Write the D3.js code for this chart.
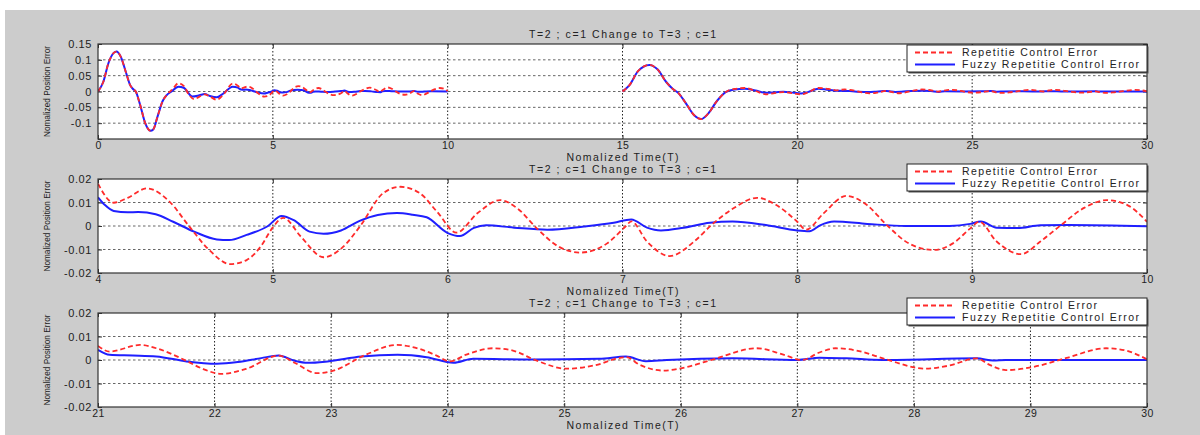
<!DOCTYPE html>
<html>
<head>
<meta charset="utf-8">
<script src="https://cdn.jsdelivr.net/npm/d3@7/dist/d3.min.js"></script>
<style>
  body { margin: 0; background: #fff; }
  text { font-family: "Liberation Sans", Arial, sans-serif; fill: #222; }
</style>
</head>
<body>
<svg id="canvas"></svg>
<script>
/* series: time (T) and normalized position error */
let redAt = [0,0.15,0.3,0.45,0.53,0.65,0.8,0.92,1.0,1.08,1.2,1.35,1.5,1.58,1.7,1.85,1.96,2.15,2.3,2.45,2.6,2.75,2.9,3.05,3.2,3.4,3.6,3.85,3.95,
  4.0,4.09,4.17,4.28,4.41,4.52,4.64,4.755,4.85,4.93,5.0,5.06,5.16,5.29,5.4,5.5,5.63,5.73,5.84,5.94,6.05,6.17,6.3,6.4,6.51,6.64,6.76,6.91,7.02,7.05,
  7.14,7.27,7.41,7.51,7.63,7.77,7.88,8.0,8.05,8.15,8.28,8.4,8.51,8.64,8.78,8.89,8.99,9.04,9.14,9.28,9.39,9.51,9.64,9.77,9.89,10.0];
let redAv = [0,0.03,0.09,0.122,0.126,0.11,0.06,0.02,0.008,0.0,-0.04,-0.1,-0.124,-0.12,-0.08,-0.03,-0.012,0.01,0.026,0.018,-0.01,-0.024,-0.016,-0.009,-0.016,-0.026,-0.008,0.025,0.022,
  0.018,0.0099,0.012,0.016,0.0103,0.0,-0.0105,-0.0162,-0.0145,-0.0088,-0.0006,0.0035,-0.0045,-0.0133,-0.009,0.0,0.0139,0.0167,0.014,0.006,-0.0028,0.0054,0.011,0.0074,-0.001,-0.009,-0.0113,-0.0075,0.0,0.002,
  -0.0066,-0.0128,-0.0066,0.0005,0.0073,0.012,0.0089,0.0018,-0.0016,0.0054,0.0128,0.0088,0.0005,-0.0075,-0.0102,-0.0074,-0.001,0.0018,-0.0066,-0.012,-0.0066,0.0005,0.0077,0.011,0.0088,0.0018];

let blueAt = [0,0.15,0.3,0.45,0.53,0.65,0.8,0.92,1.0,1.08,1.2,1.35,1.5,1.58,1.7,1.85,1.96,2.1,2.3,2.45,2.7,2.9,3.05,3.2,3.4,3.6,3.85,
  4.0,4.04,4.09,4.17,4.23,4.33,4.43,4.55,4.68,4.75,4.85,4.97,5.05,5.12,5.21,5.29,5.39,5.5,5.6,5.71,5.8,5.88,6.0,6.07,6.15,6.22,6.38,6.57,6.78,6.95,7.05,
  7.14,7.22,7.35,7.5,7.63,7.82,8.0,8.07,8.13,8.21,8.4,8.62,8.87,8.99,9.05,9.14,9.26,9.39,9.55,10.0];
let blueAv = [0,0.03,0.09,0.122,0.126,0.11,0.06,0.02,0.008,0.0,-0.04,-0.1,-0.124,-0.12,-0.08,-0.03,-0.012,0.0,0.015,0.012,-0.016,-0.012,-0.008,-0.014,-0.018,-0.005,0.015,
  0.0122,0.0089,0.0064,0.0058,0.006,0.005,0.0018,-0.0024,-0.0057,-0.006,-0.0038,-0.0001,0.0043,0.0025,-0.0024,-0.0033,-0.0019,0.0023,0.0047,0.0055,0.0048,0.0037,-0.003,-0.0043,-0.0008,0.0003,-0.0007,-0.0016,-0.0002,0.0014,0.0028,
  -0.0007,-0.0019,-0.0007,0.0014,0.0019,0.0004,-0.0019,-0.0022,0.0003,0.0019,0.0009,0.0,0.0,0.0009,0.0019,-0.0007,-0.0009,0.0003,0.0004,-0.0001];

let redBt = [15,15.2,15.45,15.77,16.0,16.25,16.44,16.6,16.8,17.05,17.25,17.45,17.7,17.95,18.2,18.5,18.8,19.1,19.35,19.6,19.9,20.1,20.3,20.6,20.9,
  21,21.1,21.36,21.5,21.76,21.9,22.06,22.27,22.55,22.68,22.88,23.02,23.3,23.56,23.76,23.9,24.02,24.16,24.39,24.56,24.76,25.02,25.25,25.53,25.65,25.85,26.05,26.28,
  26.65,26.88,27.04,27.19,27.33,27.53,27.76,28.1,28.3,28.54,28.65,28.79,29.02,29.31,29.65,29.82,30];
let redBv = [0,0.02,0.065,0.084,0.07,0.03,0.008,-0.005,-0.035,-0.075,-0.087,-0.07,-0.03,-0.002,0.008,0.011,0.002,-0.009,-0.005,-0.002,-0.006,-0.009,-0.003,0.011,0.008,
  0.006,0.0036,0.0064,0.005,-0.0004,-0.0038,-0.0059,-0.0038,0.0019,-0.001,-0.0056,-0.0045,0.0023,0.0064,0.0047,0.002,-0.0006,0.0023,0.005,0.004,-0.0002,-0.0037,-0.0024,0.0012,-0.0021,-0.0045,-0.003,0.0003,
  0.005,0.0023,0.0,0.0032,0.005,0.0038,0.0003,-0.0037,-0.0024,0.0007,-0.0021,-0.0043,-0.003,0.0009,0.005,0.004,0.0003];

let blueBt = [15,15.2,15.45,15.77,16.0,16.25,16.44,16.6,16.8,17.05,17.25,17.45,17.7,17.95,18.2,18.5,18.8,19.1,19.4,19.6,19.9,20.1,20.3,20.6,20.9,
  21,21.1,21.3,21.5,21.76,22.02,22.2,22.4,22.55,22.68,22.8,22.97,23.26,23.57,23.82,24.05,24.22,24.73,25.3,25.53,25.7,25.88,26.45,27.0,27.19,27.42,27.73,28.54,28.68,28.79,30];
let blueBv = [0,0.02,0.065,0.084,0.07,0.03,0.008,-0.005,-0.035,-0.075,-0.087,-0.07,-0.03,-0.002,0.006,0.009,0.003,-0.004,-0.002,-0.001,-0.004,-0.006,-0.002,0.009,0.005,
  0.0043,0.0022,0.0019,0.0015,-0.0006,-0.0016,-0.0009,0.0008,0.0019,-0.0002,-0.0012,-0.0006,0.0015,0.0022,0.0012,-0.0012,0.0005,0.0002,0.0005,0.0015,-0.0005,0.0,0.0007,0.0,0.001,0.0007,0.0,0.0007,-0.0002,0.0,0.0];

/* tick values for each panel */
let xTicks1 = [0,5,10,15,20,25,30];
let yTicks1 = [-0.15,-0.1,-0.05,0,0.05,0.1,0.15];
let xTicks2 = [4,5,6,7,8,9,10];
let yTicks2 = [-0.02,-0.01,0,0.01,0.02];
let xTicks3 = [21,22,23,24,25,26,27,28,29,30];
let yTicks3 = [-0.02,-0.01,0,0.01,0.02];

let titleText = 'T=2 ; c=1 Change to T=3 ; c=1';
let xLabelText = 'Nomalized Time(T)';
let yLabelText = 'Nomalized Position Error';
let legendNames = ['Repetitie Control Error', 'Fuzzy Repetitie Control Error'];

let width = 1200;
let height = 435;

let zip = (ts, vs) => ts.map((t, i) => ({t: t, v: vs[i]}));
let segA = {red: zip(redAt, redAv), blue: zip(blueAt, blueAv)};
let segB = {red: zip(redBt, redBv), blue: zip(blueBt, blueBv)};

/* panel layout: plot box edges in px */
let panels = [
  {x: [0, 30], y: [-0.15, 0.15], xt: xTicks1, yt: yTicks1, top: 44, bottom: 139, segs: [segA, segB]},
  {x: [4, 10], y: [-0.02, 0.02], xt: xTicks2, yt: yTicks2, top: 179, bottom: 273, segs: [segA]},
  {x: [21, 30], y: [-0.02, 0.02], xt: xTicks3, yt: yTicks3, top: 313, bottom: 407, segs: [segB]}
];
let left = 98;
let right = 1147;

let svg = d3.select('#canvas').attr('width', width).attr('height', height);

/* figure background */
svg.append('rect').attr('width', width).attr('height', height).attr('fill', '#fff');
svg.append('rect').attr('x', 5).attr('y', 10).attr('width', width - 5).attr('height', height - 10).attr('fill', '#cccccc');

let fmt = v => {
  if (Math.abs(v) < 1e-9) return '0';
  return String(+v.toFixed(3));
};

panels.forEach((p, pi) => {
  let xScale = d3.scaleLinear().domain(p.x).range([left, right]);
  let yScale = d3.scaleLinear().domain(p.y).range([p.bottom, p.top]);
  let g = svg.append('g');

  g.append('rect')
    .attr('x', left).attr('y', p.top)
    .attr('width', right - left).attr('height', p.bottom - p.top)
    .attr('fill', '#fff');

  /* dotted grid */
  let innerX = p.xt.filter(v => v > p.x[0] && v < p.x[1]);
  let innerY = p.yt.filter(v => v > p.y[0] && v < p.y[1]);
  g.selectAll('.gx').data(innerX).enter().append('line')
    .attr('x1', d => xScale(d)).attr('x2', d => xScale(d))
    .attr('y1', p.top).attr('y2', p.bottom)
    .attr('stroke', '#222').attr('stroke-width', 1).attr('stroke-dasharray', '1.5,2');
  g.selectAll('.gy').data(innerY).enter().append('line')
    .attr('x1', left).attr('x2', right)
    .attr('y1', d => yScale(d)).attr('y2', d => yScale(d))
    .attr('stroke', '#666').attr('stroke-width', 1).attr('stroke-dasharray', '2.5,2.5');

  /* inward ticks on all four sides */
  let tl = 4;
  let xa = d3.axisBottom(xScale).tickValues(p.xt).tickSize(-tl).tickFormat(fmt).tickPadding(3);
  let ya = d3.axisLeft(yScale).tickValues(p.yt).tickSize(-tl)
    .tickFormat(v => (pi === 0 && v === -0.15) ? '' : fmt(v)).tickPadding(6);
  let gx = g.append('g').attr('transform', 'translate(0,' + p.bottom + ')').call(xa);
  let gy = g.append('g').attr('transform', 'translate(' + left + ',0)').call(ya);
  g.append('g').attr('transform', 'translate(0,' + p.top + ')')
    .call(d3.axisTop(xScale).tickValues(p.xt).tickSize(-tl).tickFormat(''));
  g.append('g').attr('transform', 'translate(' + right + ',0)')
    .call(d3.axisRight(yScale).tickValues(p.yt).tickSize(-tl).tickFormat(''));
  g.selectAll('.domain').remove();
  g.selectAll('.tick line').attr('stroke', '#333');
  gx.selectAll('text').attr('font-size', 10.5).attr('letter-spacing', 0.4).attr('fill', '#222');
  gy.selectAll('text').attr('font-size', 11).attr('letter-spacing', 0.6).attr('fill', '#222');

  /* the two error curves */
  let clipId = 'clip' + pi;
  svg.append('clipPath').attr('id', clipId).append('rect')
    .attr('x', left).attr('y', p.top).attr('width', right - left).attr('height', p.bottom - p.top);
  let line = d3.line().x(d => xScale(d.t)).y(d => yScale(d.v)).curve(d3.curveMonotoneX);
  let cg = g.append('g').attr('clip-path', 'url(#' + clipId + ')');
  p.segs.forEach(s => {
    let keep = arr => arr.filter(d => d.t >= p.x[0] && d.t <= p.x[1]);
    cg.append('path').datum(keep(s.blue)).attr('d', line)
      .attr('fill', 'none').attr('stroke', '#1f1fff').attr('stroke-width', 2);
    cg.append('path').datum(keep(s.red)).attr('d', line)
      .attr('fill', 'none').attr('stroke', '#ff2b2b').attr('stroke-width', 1.8)
      .attr('stroke-dasharray', '5,3');
  });

  /* axes box */
  g.append('rect')
    .attr('x', left).attr('y', p.top)
    .attr('width', right - left).attr('height', p.bottom - p.top)
    .attr('fill', 'none').attr('stroke', '#333').attr('stroke-width', 1.2);

  /* title and axis labels */
  let cx = (left + right) / 2;
  g.append('text').attr('x', cx).attr('y', p.top - 6).attr('text-anchor', 'middle')
    .attr('font-size', 10.5).attr('textLength', 187).attr('lengthAdjust', 'spacing').text(titleText);
  g.append('text').attr('x', cx).attr('y', p.bottom + 22).attr('text-anchor', 'middle')
    .attr('font-size', 10.5).attr('textLength', 112).attr('lengthAdjust', 'spacing').text(xLabelText);
  let cy = (p.top + p.bottom) / 2;
  g.append('text').attr('transform', 'translate(50,' + cy + ') rotate(-90)').attr('text-anchor', 'middle')
    .attr('font-size', 9.5).attr('textLength', 91).attr('lengthAdjust', 'spacingAndGlyphs').text(yLabelText);

  /* legend */
  let lx = 907, lw = 240, lh = 27;
  let ly = pi === 0 ? 45 : p.top - 15;
  let lg = g.append('g').attr('transform', 'translate(' + lx + ',' + ly + ')');
  lg.append('rect').attr('x', 1.5).attr('y', 1.5).attr('width', lw).attr('height', lh).attr('fill', '#555');
  lg.append('rect').attr('width', lw).attr('height', lh).attr('fill', '#fff').attr('stroke', '#222').attr('stroke-width', 1);
  let rows = [{c: '#ff2b2b', dash: '5,3', w: 1.8, len: 135}, {c: '#1f1fff', dash: null, w: 2, len: 177}];
  rows.forEach((r, i) => {
    let yy = 7.5 + i * 12;
    lg.append('line').attr('x1', 8).attr('x2', 48).attr('y1', yy).attr('y2', yy)
      .attr('stroke', r.c).attr('stroke-width', r.w).attr('stroke-dasharray', r.dash);
    lg.append('text').attr('x', 55).attr('y', yy + 3.8).attr('font-size', 10.5)
      .attr('textLength', r.len).attr('lengthAdjust', 'spacing').text(legendNames[i]);
  });
});
</script>
</body>
</html>
